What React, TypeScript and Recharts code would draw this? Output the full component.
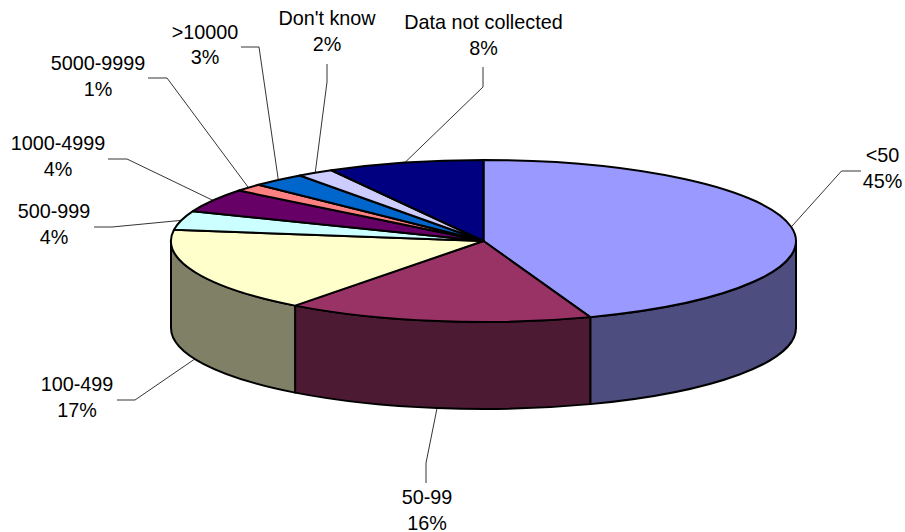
import React from "react";
import { PieChart, Pie, Cell } from "recharts";

const categories = ["<50", "50-99", "100-499", "500-999", "1000-4999", "5000-9999", ">10000", "Don't know", "Data not collected"];
const shares = [44.45, 15.85, 16.9, 3.8, 4.7, 1.5, 2.8, 1.9, 8.1];
const percentLabels = ["45%", "16%", "17%", "4%", "4%", "1%", "3%", "2%", "8%"];
const topColors = ["#9999FF", "#993366", "#FFFFCC", "#CCFFFF", "#660066", "#FF8080", "#0066CC", "#CCCCFF", "#000080"];
const wallColors = ["#4D4D80", "#4D1A33", "#808066", "#668080", "#330033", "#804040", "#003366", "#666680", "#000040"];

// label text centre x, first baseline y, leader elbow, leader end
const labelX = [882.5, 427, 77, 54, 58, 98, 205, 327, 483.5];
const labelY = [162, 504, 391, 218, 150, 70, 38.5, 25, 29];
const elbows = [[841.5, 171], [426, 463], [135, 400], [112, 227], [127, 159], [167, 78], [259, 47], [327, 82], [483, 87]];
const leaderEnds = [[861, 171], [426, 483], [117, 400], [94, 227], [108, 159], [148, 78], [241, 47], [327, 64], [483, 67]];

const CX = 483.5;
const CY = 241;
const RX = 312.5;
const RY = 81;
const DEPTH = 87;
const FONT = "'Liberation Sans', Arial, sans-serif";

const data = categories.map((name, i) => ({ name, value: shares[i] }));
const rad = (a: number) => (a * Math.PI) / 180;
const px = (a: number) => CX + RX * Math.cos(rad(a));
const py = (a: number) => CY - RY * Math.sin(rad(a));

function TopSlice(p: any) {
  const large = Math.abs(p.endAngle - p.startAngle) > 180 ? 1 : 0;
  const d = `M${CX},${CY} L${px(p.startAngle)},${py(p.startAngle)} A${RX},${RY} 0 ${large} 1 ${px(p.endAngle)},${py(p.endAngle)} Z`;
  return <path d={d} fill={p.fill} stroke="#000" strokeWidth={2} strokeLinejoin="round" />;
}

function WallSlice(p: any) {
  const s = Math.min(0, p.startAngle);
  const e = Math.max(-180, p.endAngle);
  if (s <= e) return <g />;
  const d =
    `M${px(s)},${py(s)} A${RX},${RY} 0 0 1 ${px(e)},${py(e)} ` +
    `L${px(e)},${py(e) + DEPTH} A${RX},${RY} 0 0 0 ${px(s)},${py(s) + DEPTH} Z`;
  return <path d={d} fill={p.fill} stroke="#000" strokeWidth={2} strokeLinejoin="round" />;
}

function SliceLabel(p: any) {
  const i = p.index;
  const a = p.midAngle;
  const ax = px(a);
  const ay = py(a) + (Math.sin(rad(a)) < 0 ? DEPTH : 0);
  return (
    <g>
      <polyline
        points={`${ax},${ay} ${elbows[i][0]},${elbows[i][1]} ${leaderEnds[i][0]},${leaderEnds[i][1]}`}
        fill="none"
        stroke="#000"
        strokeWidth={0.8}
      />
      <text x={labelX[i]} y={labelY[i]} textAnchor="middle" fontFamily={FONT} fontSize={19.8} fill="#000">
        {categories[i]}
      </text>
      <text x={labelX[i]} y={labelY[i] + 25.5} textAnchor="middle" fontFamily={FONT} fontSize={19.8} fill="#000">
        {percentLabels[i]}
      </text>
    </g>
  );
}

export default function App() {
  return (
    <div style={{ position: "absolute", left: 0, top: 0, width: 905, height: 532, background: "#fff" }}>
      <PieChart width={905} height={532} margin={{ top: 0, right: 0, bottom: 0, left: 0 }}>
        <Pie
          data={data}
          dataKey="value"
          cx={CX}
          cy={CY}
          outerRadius={RX}
          startAngle={90}
          endAngle={-270}
          isAnimationActive={false}
          shape={WallSlice}
          label={false}
          labelLine={false}
        >
          {categories.map((c, i) => (
            <Cell key={c} fill={wallColors[i]} />
          ))}
        </Pie>
        <Pie
          data={data}
          dataKey="value"
          cx={CX}
          cy={CY}
          outerRadius={RX}
          startAngle={90}
          endAngle={-270}
          isAnimationActive={false}
          shape={TopSlice}
          label={SliceLabel}
          labelLine={false}
        >
          {categories.map((c, i) => (
            <Cell key={c} fill={topColors[i]} />
          ))}
        </Pie>
      </PieChart>
    </div>
  );
}
